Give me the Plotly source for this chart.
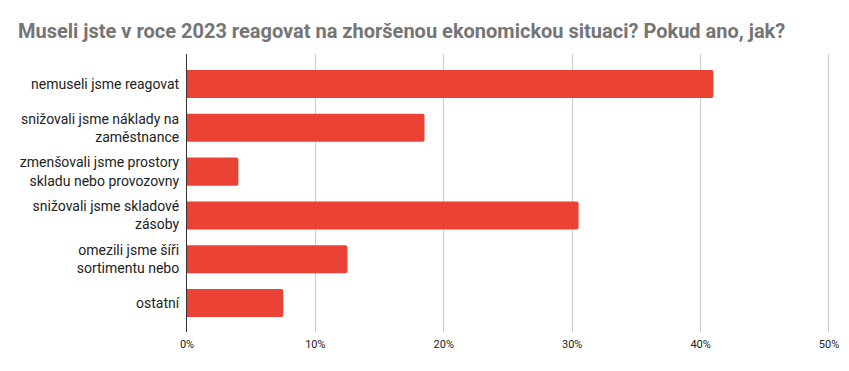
import plotly.graph_objects as go

categories = [
    "nemuseli jsme reagovat",
    "snižovali jsme náklady na<br>zaměstnance",
    "zmenšovali jsme prostory<br>skladu nebo provozovny",
    "snižovali jsme skladové<br>zásoby",
    "omezili jsme šíři<br>sortimentu nebo",
    "ostatní",
]
values = [0.41, 0.185, 0.04, 0.305, 0.125, 0.075]
tick_vals = [0, 0.1, 0.2, 0.3, 0.4, 0.5]
tick_text = ["0%", "10%", "20%", "30%", "40%", "50%"]
title_text = "Museli jste v roce 2023 reagovat na zhoršenou ekonomickou situaci? Pokud ano, jak?"

# page body adds an 8px offset, so the figure is sized to fill the rest
W, H = 841, 363

fig = go.Figure(
    go.Bar(
        x=values,
        y=categories,
        orientation="h",
        marker=dict(color="#EA4335", cornerradius=2, line=dict(width=0)),
        hoverinfo="x+y",
    )
)

fig.update_layout(
    width=W,
    height=H,
    paper_bgcolor="white",
    plot_bgcolor="white",
    margin=dict(l=179, r=19, t=46, b=39, autoexpand=False),
    bargap=0.36,
    showlegend=False,
    font=dict(family="Roboto, Arial, sans-serif", color="#222222"),
    title=dict(
        text="<b>" + title_text + "</b>",
        x=10 / W,
        xref="container",
        xanchor="left",
        y=1 - 23 / H,
        yref="container",
        yanchor="middle",
        pad=dict(l=0, r=0, t=0, b=0),
        font=dict(family="Roboto, Arial, sans-serif", size=20, color="#757575"),
    ),
)

fig.update_xaxes(
    range=[0, 0.5008],
    tickvals=tick_vals,
    ticktext=tick_text,
    showgrid=True,
    gridcolor="#cccccc",
    gridwidth=1,
    zeroline=False,
    showline=False,
    ticks="",
    automargin=False,
    ticklabelstandoff=4,
    tickfont=dict(size=11, color="#222222"),
    fixedrange=True,
)

fig.update_yaxes(
    categoryorder="array",
    categoryarray=categories,
    range=[5.66, -0.685],
    showgrid=False,
    showline=True,
    linecolor="#333333",
    linewidth=1,
    ticks="",
    automargin=False,
    ticklabelstandoff=4,
    tickfont=dict(size=14, color="#222222"),
    fixedrange=True,
)

fig.write_html("out.html")
